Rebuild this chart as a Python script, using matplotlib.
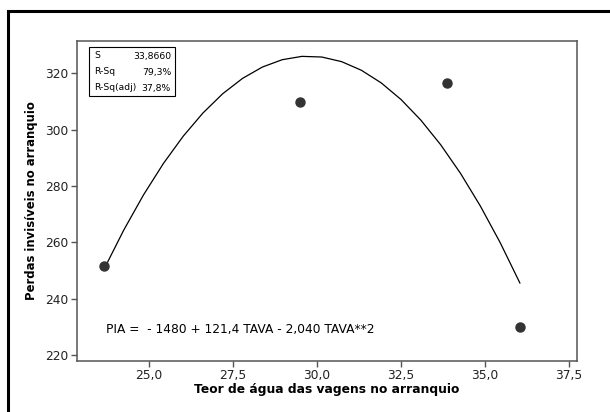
import numpy as np
import matplotlib.pyplot as plt
from matplotlib.patches import Rectangle
from matplotlib.ticker import FuncFormatter

# Observed points: water content of pods vs invisible losses
tava = [23.66, 29.49, 33.86, 36.04]
pia = [251.6, 309.7, 316.7, 230.0]

# Quadratic fit coefficients
b0, b1, b2 = -1480, 121.4, -2.040
stat_names = ['S', 'R-Sq', 'R-Sq(adj)']
stat_values = ['33,8660', '79,3%', '37,8%']

xticks = [25.0, 27.5, 30.0, 32.5, 35.0, 37.5]
yticks = [220, 240, 260, 280, 300, 320]

plt.rcParams['font.family'] = ['DejaVu Sans']

W, H = 610, 412
fig = plt.figure(figsize=(W / 100, H / 100), dpi=100)
ax = fig.add_axes([77 / W, 1 - 360.5 / H, 500 / W, 319.5 / H])

xs = np.linspace(min(tava), max(tava), 22)
ax.plot(xs, b0 + b1 * xs + b2 * xs ** 2, color='black', lw=0.9)
ax.plot(tava, pia, 'o', color='#333333', ms=6.5, zorder=3)

ax.set_xlim(22.86, 37.74)
ax.set_ylim(218, 331.5)
ax.set_xticks(xticks)
ax.set_yticks(yticks)
comma = FuncFormatter(lambda v, p: f'{v:.1f}'.replace('.', ','))
ax.xaxis.set_major_formatter(comma)
ax.tick_params(direction='out', length=4, width=1, color='#555555',
               labelsize=8.8, labelcolor='#222222', pad=2)
for s in ax.spines.values():
    s.set_color('#555555')
    s.set_linewidth(1.1)

ax.set_xlabel('Teor de água das vagens no arranquio', fontsize=8.8,
              fontweight='bold', labelpad=1)
ax.set_ylabel('Perdas invisíveis no arranquio', fontsize=8.4,
              fontweight='bold', labelpad=5)

fig.text(106 / W, 1 - 330 / H, 'PIA =  - 1480 + 121,4 TAVA - 2,040 TAVA**2',
         fontsize=8.8, va='center', ha='left')

# summary box in the upper left
box = Rectangle((89 / W, 1 - 96 / H), 86 / W, 49 / H,
                transform=fig.transFigure, fill=False, lw=0.8,
                edgecolor='black')
fig.patches.append(box)
for i, (n, v) in enumerate(zip(stat_names, stat_values)):
    y = 1 - (56 + i * 16) / H
    fig.text(94 / W, y, n, fontsize=6.7, va='center', ha='left')
    fig.text(171 / W, y, v, fontsize=6.7, va='center', ha='right')

# outer frame
frame = Rectangle((8 / W, -0.1), 1.1, 1 - 11 / H + 0.1,
                  transform=fig.transFigure, fill=False, lw=2.2,
                  edgecolor='black')
fig.patches.append(frame)

fig.savefig('out.png', dpi=100)
